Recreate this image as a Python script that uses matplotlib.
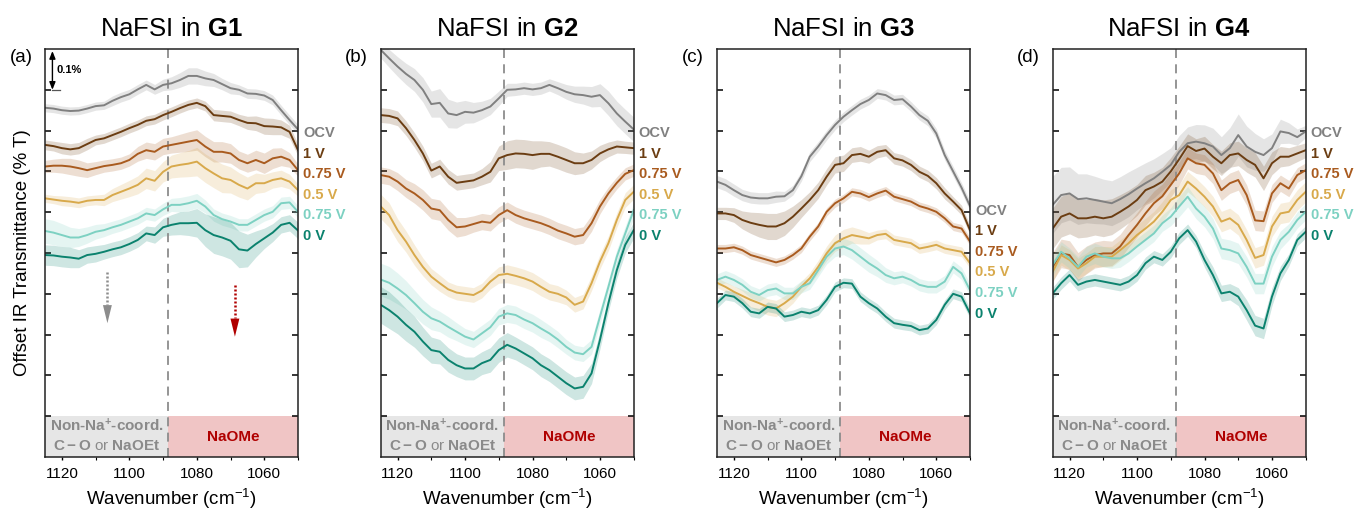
import numpy as np
import matplotlib.pyplot as plt
from matplotlib.ticker import MultipleLocator

plt.rcParams['font.family'] = ['Liberation Sans', 'DejaVu Sans']
plt.rcParams['mathtext.fontset'] = 'custom'
plt.rcParams['mathtext.rm'] = 'Liberation Sans'
plt.rcParams['mathtext.bf'] = 'Liberation Sans:bold'
plt.rcParams['mathtext.it'] = 'Liberation Sans:italic'

# sampling grid of the spectra (cm-1)
WAVENUMBER = np.arange(1125, 1047.5, -2.5)

STATES = ['OCV', '1 V', '0.75 V', '0.5 V', '0.75 V', '0 V']
COLORS = ['#808080', '#6b3d12', '#a95b1f', '#d8a94b', '#7dd1c2', '#0b826e']
SOLVENTS = ['G1', 'G2', 'G3', 'G4']
PANEL_TAGS = ['(a)', '(b)', '(c)', '(d)']
X_TICKS = [1120, 1100, 1080, 1060]
BOUNDARY = 1088.5

# offset transmittance (% T), one array per state
G1_OCV = [0.856, 0.854, 0.850, 0.848, 0.849, 0.854, 0.860, 0.862, 0.873, 0.882, 0.889, 0.901, 0.912, 0.901, 0.912, 0.916,
          0.924, 0.934, 0.934, 0.928, 0.924, 0.914, 0.904, 0.900, 0.891, 0.890, 0.886, 0.875, 0.850, 0.826, 0.803]
G1_1V = [0.765, 0.762, 0.757, 0.754, 0.757, 0.767, 0.777, 0.781, 0.789, 0.797, 0.806, 0.814, 0.824, 0.828, 0.838, 0.846,
         0.855, 0.863, 0.868, 0.860, 0.838, 0.836, 0.834, 0.826, 0.819, 0.818, 0.811, 0.810, 0.808, 0.797, 0.752]
G1_075V = [0.712, 0.714, 0.714, 0.712, 0.708, 0.703, 0.708, 0.713, 0.716, 0.720, 0.728, 0.743, 0.752, 0.748, 0.761, 0.765,
           0.769, 0.773, 0.777, 0.761, 0.748, 0.748, 0.744, 0.728, 0.720, 0.728, 0.720, 0.732, 0.736, 0.728, 0.703]
G1_05V = [0.634, 0.631, 0.628, 0.626, 0.623, 0.628, 0.630, 0.630, 0.642, 0.650, 0.658, 0.667, 0.683, 0.677, 0.699, 0.712,
          0.716, 0.719, 0.724, 0.708, 0.695, 0.683, 0.679, 0.667, 0.658, 0.671, 0.671, 0.679, 0.683, 0.675, 0.654]
G1_075T = [0.554, 0.550, 0.544, 0.538, 0.538, 0.544, 0.552, 0.556, 0.563, 0.569, 0.577, 0.585, 0.597, 0.593, 0.607, 0.618,
           0.618, 0.622, 0.628, 0.614, 0.593, 0.583, 0.577, 0.569, 0.569, 0.581, 0.593, 0.601, 0.622, 0.624, 0.601]
G1_0V = [0.495, 0.494, 0.491, 0.489, 0.486, 0.495, 0.498, 0.503, 0.509, 0.514, 0.522, 0.532, 0.548, 0.544, 0.563, 0.569,
         0.573, 0.573, 0.574, 0.556, 0.544, 0.538, 0.530, 0.509, 0.506, 0.522, 0.536, 0.550, 0.569, 0.574, 0.555]

G2_OCV = [0.998, 0.977, 0.957, 0.939, 0.924, 0.900, 0.865, 0.868, 0.842, 0.838, 0.846, 0.844, 0.850, 0.859, 0.879, 0.900,
          0.901, 0.904, 0.901, 0.904, 0.912, 0.904, 0.895, 0.889, 0.887, 0.883, 0.887, 0.867, 0.842, 0.822, 0.803]
G2_1V = [0.838, 0.836, 0.830, 0.806, 0.777, 0.744, 0.702, 0.712, 0.687, 0.672, 0.675, 0.678, 0.687, 0.699, 0.732, 0.740,
         0.744, 0.743, 0.740, 0.743, 0.743, 0.736, 0.728, 0.720, 0.720, 0.728, 0.744, 0.754, 0.761, 0.759, 0.757]
G2_075V = [0.691, 0.687, 0.675, 0.658, 0.646, 0.630, 0.609, 0.605, 0.581, 0.563, 0.565, 0.571, 0.577, 0.574, 0.593, 0.605,
           0.593, 0.585, 0.579, 0.573, 0.565, 0.555, 0.548, 0.540, 0.544, 0.573, 0.614, 0.646, 0.672, 0.694, 0.703]
G2_05V = [0.614, 0.593, 0.556, 0.528, 0.495, 0.466, 0.442, 0.426, 0.411, 0.403, 0.400, 0.397, 0.408, 0.430, 0.446, 0.449,
          0.444, 0.438, 0.430, 0.417, 0.405, 0.400, 0.391, 0.373, 0.381, 0.426, 0.479, 0.524, 0.581, 0.630, 0.650]
G2_075T = [0.435, 0.427, 0.413, 0.397, 0.377, 0.356, 0.340, 0.332, 0.319, 0.307, 0.295, 0.288, 0.303, 0.318, 0.344, 0.352,
           0.348, 0.337, 0.328, 0.315, 0.303, 0.288, 0.270, 0.256, 0.252, 0.270, 0.344, 0.417, 0.491, 0.548, 0.605]
G2_0V = [0.373, 0.360, 0.344, 0.324, 0.307, 0.283, 0.262, 0.258, 0.238, 0.225, 0.217, 0.217, 0.230, 0.238, 0.262, 0.275,
         0.266, 0.254, 0.242, 0.225, 0.213, 0.197, 0.181, 0.168, 0.172, 0.205, 0.287, 0.377, 0.458, 0.520, 0.556]

G3_OCV = [0.675, 0.667, 0.654, 0.642, 0.636, 0.634, 0.634, 0.638, 0.639, 0.654, 0.688, 0.736, 0.761, 0.789, 0.814, 0.834,
          0.850, 0.865, 0.875, 0.891, 0.887, 0.875, 0.877, 0.859, 0.838, 0.824, 0.793, 0.740, 0.700, 0.660, 0.615]
G3_1V = [0.597, 0.597, 0.593, 0.581, 0.574, 0.569, 0.565, 0.565, 0.573, 0.589, 0.609, 0.630, 0.654, 0.687, 0.716, 0.720,
         0.740, 0.743, 0.736, 0.748, 0.752, 0.732, 0.727, 0.716, 0.699, 0.689, 0.671, 0.646, 0.626, 0.605, 0.556]
G3_075V = [0.511, 0.511, 0.514, 0.507, 0.495, 0.489, 0.483, 0.477, 0.483, 0.495, 0.511, 0.540, 0.565, 0.601, 0.622, 0.634,
           0.650, 0.646, 0.637, 0.646, 0.653, 0.638, 0.632, 0.626, 0.615, 0.609, 0.601, 0.585, 0.565, 0.560, 0.528]
G3_05V = [0.427, 0.417, 0.405, 0.395, 0.385, 0.377, 0.368, 0.364, 0.377, 0.393, 0.417, 0.438, 0.466, 0.499, 0.524, 0.536,
          0.544, 0.540, 0.536, 0.544, 0.547, 0.532, 0.528, 0.524, 0.511, 0.515, 0.520, 0.511, 0.507, 0.503, 0.475]
G3_075T = [0.434, 0.442, 0.434, 0.422, 0.405, 0.397, 0.409, 0.413, 0.401, 0.401, 0.417, 0.426, 0.458, 0.491, 0.511, 0.516,
           0.507, 0.491, 0.475, 0.462, 0.446, 0.438, 0.442, 0.434, 0.422, 0.417, 0.417, 0.430, 0.466, 0.450, 0.409]
G3_0V = [0.377, 0.397, 0.393, 0.377, 0.356, 0.352, 0.368, 0.364, 0.344, 0.348, 0.356, 0.352, 0.360, 0.385, 0.417, 0.427,
         0.425, 0.393, 0.377, 0.364, 0.344, 0.328, 0.324, 0.321, 0.311, 0.315, 0.336, 0.373, 0.400, 0.393, 0.352]

G4_OCV = [0.618, 0.642, 0.646, 0.632, 0.634, 0.630, 0.626, 0.622, 0.632, 0.644, 0.658, 0.671, 0.683, 0.699, 0.716, 0.748,
          0.769, 0.773, 0.769, 0.761, 0.740, 0.757, 0.789, 0.761, 0.748, 0.740, 0.757, 0.798, 0.794, 0.784, 0.798]
G4_1V = [0.560, 0.589, 0.597, 0.585, 0.585, 0.589, 0.585, 0.589, 0.601, 0.614, 0.630, 0.654, 0.663, 0.675, 0.700, 0.730,
         0.762, 0.750, 0.756, 0.736, 0.720, 0.740, 0.744, 0.728, 0.716, 0.683, 0.720, 0.736, 0.736, 0.744, 0.752]
G4_075V = [0.466, 0.499, 0.495, 0.466, 0.483, 0.495, 0.499, 0.499, 0.516, 0.544, 0.569, 0.597, 0.622, 0.639, 0.667, 0.695,
           0.732, 0.720, 0.716, 0.695, 0.654, 0.671, 0.679, 0.642, 0.580, 0.578, 0.646, 0.671, 0.658, 0.691, 0.703]
G4_05V = [0.454, 0.495, 0.483, 0.462, 0.475, 0.491, 0.491, 0.491, 0.507, 0.524, 0.544, 0.560, 0.577, 0.601, 0.630, 0.642,
          0.675, 0.658, 0.638, 0.614, 0.577, 0.585, 0.569, 0.532, 0.488, 0.495, 0.565, 0.597, 0.601, 0.630, 0.650]
G4_075T = [0.471, 0.503, 0.487, 0.466, 0.491, 0.499, 0.491, 0.487, 0.487, 0.499, 0.516, 0.532, 0.548, 0.573, 0.589, 0.614,
           0.638, 0.609, 0.589, 0.560, 0.511, 0.507, 0.499, 0.466, 0.425, 0.425, 0.491, 0.532, 0.552, 0.581, 0.601]
G4_0V = [0.401, 0.426, 0.446, 0.422, 0.430, 0.434, 0.430, 0.426, 0.422, 0.430, 0.446, 0.475, 0.491, 0.483, 0.503, 0.536,
         0.556, 0.528, 0.483, 0.446, 0.401, 0.405, 0.393, 0.360, 0.322, 0.315, 0.393, 0.450, 0.483, 0.532, 0.552]

# spread between repeat measurements (half-width of the shaded band, % T)
S1_OCV = [.010, .010, .010, .010, .010, .010, .010, .010, .012, .012, .012, .012, .012, .012, .014, .016,
          .018, .020, .020, .018, .016, .014, .014, .012, .012, .012, .012, .012, .012, .012, .012]
S1_1V = [.012, .012, .014, .014, .014, .014, .012, .012, .012, .012, .012, .012, .012, .012, .012, .012,
         .012, .012, .012, .012, .014, .014, .014, .014, .016, .018, .020, .020, .018, .016, .014]
S1_075V = [.015, .016, .018, .020, .020, .018, .016, .015, .015, .015, .015, .018, .020, .020, .020, .020,
           .022, .024, .025, .025, .025, .025, .024, .022, .022, .024, .025, .025, .022, .018, .015]
S1_05V = [.010, .010, .012, .012, .012, .012, .012, .014, .016, .018, .020, .022, .025, .025, .025, .028,
          .030, .032, .035, .035, .035, .035, .032, .030, .028, .025, .022, .020, .020, .018, .015]
S1_075T = [.030, .030, .028, .025, .022, .020, .018, .016, .015, .015, .015, .015, .015, .015, .015, .016,
           .018, .018, .018, .016, .015, .015, .015, .015, .015, .015, .015, .015, .015, .015, .015]
S1_0V = [.025, .025, .025, .025, .022, .020, .020, .018, .018, .018, .018, .018, .018, .020, .022, .025,
         .028, .030, .035, .040, .045, .045, .045, .045, .040, .032, .025, .022, .020, .020, .020]

S2_OCV = [.020, .022, .024, .026, .028, .030, .032, .035, .035, .032, .028, .025, .022, .020, .018, .016,
          .015, .015, .015, .015, .015, .016, .018, .020, .022, .025, .028, .030, .030, .030, .030]
S2_1V = [.018, .018, .018, .018, .018, .018, .018, .018, .018, .018, .018, .018, .020, .025, .030, .035,
         .035, .035, .035, .032, .030, .030, .030, .028, .025, .022, .020, .018, .016, .015, .015]
S2_075V = [.020, .020, .022, .022, .024, .025, .025, .025, .025, .024, .022, .020, .020, .020, .020, .020,
           .020, .020, .020, .020, .020, .020, .020, .020, .020, .020, .018, .016, .015, .015, .015]
S2_05V = [.030, .030, .028, .026, .025, .022, .020, .020, .018, .018, .018, .018, .018, .018, .020, .022,
          .022, .022, .022, .022, .020, .020, .018, .018, .018, .018, .018, .018, .018, .018, .018]
S2_075T = [.040, .040, .038, .035, .032, .030, .028, .025, .025, .022, .020, .020, .020, .020, .020, .022,
           .022, .022, .022, .022, .020, .020, .018, .018, .018, .018, .018, .018, .018, .018, .018]
S2_0V = [.045, .045, .042, .040, .038, .035, .032, .030, .030, .028, .028, .028, .028, .030, .030, .030,
         .028, .028, .028, .028, .028, .028, .028, .028, .028, .025, .022, .020, .020, .020, .020]

S3_OCV = [.015, .015, .015, .014, .014, .014, .014, .014, .012, .012, .012, .012, .012, .012, .012, .012,
          .012, .012, .012, .012, .012, .012, .012, .012, .012, .012, .012, .012, .012, .012, .012]
S3_1V = [.015, .015, .018, .022, .026, .030, .032, .032, .030, .026, .022, .020, .020, .020, .020, .020,
         .018, .018, .016, .015, .014, .014, .014, .014, .014, .014, .014, .014, .012, .012, .012]
S3_075V = [.010, .010, .010, .010, .010, .010, .010, .010, .010, .010, .010, .010, .010, .010, .010, .010,
           .010, .010, .010, .010, .010, .010, .010, .010, .010, .010, .010, .010, .010, .010, .010]
S3_05V = [.012, .012, .014, .016, .018, .020, .020, .020, .018, .016, .014, .014, .016, .018, .020, .022,
          .020, .018, .014, .012, .012, .012, .012, .012, .012, .012, .012, .012, .012, .012, .012]
S3_075T = [.015, .015, .015, .015, .015, .015, .015, .015, .015, .015, .015, .015, .016, .018, .020, .020,
           .022, .022, .022, .020, .018, .016, .015, .015, .015, .015, .015, .015, .015, .015, .015]
S3_0V = [.012, .012, .012, .012, .012, .012, .012, .012, .012, .012, .012, .012, .012, .012, .012, .012,
         .012, .012, .012, .012, .012, .012, .012, .012, .012, .012, .012, .012, .012, .012, .012]

S4_OCV = [.070, .068, .065, .062, .060, .058, .055, .055, .055, .055, .052, .050, .048, .045, .042, .040,
          .040, .042, .045, .045, .045, .050, .052, .050, .045, .040, .035, .030, .025, .020, .015]
S4_1V = [.050, .050, .050, .048, .046, .045, .045, .044, .042, .040, .038, .036, .035, .035, .034, .032,
         .030, .030, .030, .030, .030, .030, .030, .030, .030, .030, .028, .025, .022, .020, .018]
S4_075V = [.035, .035, .035, .035, .034, .032, .032, .030, .030, .030, .030, .030, .030, .030, .030, .028,
           .026, .025, .025, .025, .025, .025, .025, .025, .025, .025, .022, .020, .020, .018, .018]
S4_05V = [.025, .025, .025, .025, .025, .025, .025, .025, .025, .025, .025, .025, .025, .025, .025, .025,
          .025, .025, .025, .025, .025, .025, .025, .025, .025, .025, .025, .025, .025, .025, .025]
S4_075T = [.025, .025, .025, .025, .025, .025, .025, .025, .022, .020, .020, .020, .020, .020, .022, .025,
           .025, .025, .025, .025, .025, .025, .025, .025, .025, .025, .025, .022, .020, .020, .020]
S4_0V = [.015, .015, .015, .015, .015, .015, .015, .015, .015, .015, .015, .015, .015, .015, .015, .015,
         .015, .015, .018, .020, .020, .020, .022, .025, .025, .025, .022, .018, .015, .015, .015]

CURVES = [
    [G1_OCV, G1_1V, G1_075V, G1_05V, G1_075T, G1_0V],
    [G2_OCV, G2_1V, G2_075V, G2_05V, G2_075T, G2_0V],
    [G3_OCV, G3_1V, G3_075V, G3_05V, G3_075T, G3_0V],
    [G4_OCV, G4_1V, G4_075V, G4_05V, G4_075T, G4_0V],
]
SPREADS = [
    [S1_OCV, S1_1V, S1_075V, S1_05V, S1_075T, S1_0V],
    [S2_OCV, S2_1V, S2_075V, S2_05V, S2_075T, S2_0V],
    [S3_OCV, S3_1V, S3_075V, S3_05V, S3_075T, S3_0V],
    [S4_OCV, S4_1V, S4_075V, S4_05V, S4_075T, S4_0V],
]

# layout (figure pixels)
W, H = 1357, 512
AX_LEFT = [45, 380.7, 717, 1052.7]
AX_WIDTH = 253
AX_TOP, AX_BOTTOM = 49, 457
LABEL_TOP = [0.794, 0.794, 0.604, 0.794]
LABEL_STEP = 0.0505

fig = plt.figure(figsize=(W / 100, H / 100), dpi=100)

for k in range(4):
    ax = fig.add_axes([AX_LEFT[k] / W, 1 - AX_BOTTOM / H, AX_WIDTH / W, (AX_BOTTOM - AX_TOP) / H])
    x = WAVENUMBER

    for j in range(6):
        y = np.array(CURVES[k][j])
        s = np.array(SPREADS[k][j])
        ax.fill_between(x, y - s, y + s, color=COLORS[j], alpha=0.2, lw=0, zorder=2)
        ax.plot(x, y, color=COLORS[j], lw=1.4, zorder=3)

    # assignment boxes along the bottom
    ax.fill_between([1125, BOUNDARY], 0, 0.1, color='#e6e6e6', lw=0, zorder=1)
    ax.fill_between([BOUNDARY, 1050], 0, 0.1, color='#f0c5c5', lw=0, zorder=1)
    ax.text((1125 + BOUNDARY) / 2, 0.077, 'Non-Na$^{\\mathbf{+}}$-coord.', ha='center', va='center',
            fontsize=11, fontweight='bold', color='#8a8a8a', zorder=4)
    ax.text((1125 + BOUNDARY) / 2, 0.026, r'$\mathbf{C-O}$ or $\mathbf{NaOEt}$', ha='center', va='center',
            fontsize=11, color='#8a8a8a', zorder=4)
    ax.text((BOUNDARY + 1050) / 2, 0.05, 'NaOMe', ha='center', va='center',
            fontsize=11, fontweight='bold', color='#b00000', zorder=4)

    ax.plot([BOUNDARY, BOUNDARY], [0, 1.0], color='#8c8c8c', lw=1.3, ls=(0, (5, 3.5)), zorder=2.5)

    ax.set_xlim(1125, 1050)
    ax.set_ylim(0, 1.0)
    ax.set_xticks(X_TICKS)
    ax.xaxis.set_minor_locator(MultipleLocator(10))
    ax.set_yticks(np.arange(0.1, 0.95, 0.1))
    ax.tick_params(axis='y', direction='in', left=True, right=True, labelleft=False, length=4.5, width=1.1)
    ax.tick_params(axis='x', which='major', direction='out', length=2.5, width=1.0, labelsize=11, pad=5)
    ax.tick_params(axis='x', which='minor', direction='out', length=2, width=0.8)
    for sp in ax.spines.values():
        sp.set_linewidth(1.1)
        sp.set_color('#222222')
        sp.set_zorder(5)

    ax.set_xlabel('Wavenumber (cm$^{-1}$)', fontsize=13.5, labelpad=4)
    ax.set_title('NaFSI in $\\mathbf{' + SOLVENTS[k] + '}$', fontsize=18.5, pad=9)

    ytrans = ax.get_yaxis_transform()
    for j in range(6):
        ax.text(1.02, LABEL_TOP[k] - j * LABEL_STEP, STATES[j], transform=ytrans, ha='left', va='center',
                fontsize=10.5, fontweight='bold', color=COLORS[j], clip_on=False)

    fig.text((AX_LEFT[k] - 24) / W, 1 - 58 / H, PANEL_TAGS[k], ha='center', va='center', fontsize=13.5)

    if k == 0:
        ax.set_ylabel('Offset IR Transmittance (% T)', fontsize=13.5, labelpad=10)

        # 0.1 % scale bar
        ax.annotate('', xy=(1122.8, 0.995), xytext=(1122.8, 0.9),
                    arrowprops=dict(arrowstyle='<|-|>,head_length=0.45,head_width=0.18', color='black',
                                    lw=1.0, shrinkA=0, shrinkB=0))
        ax.plot([1122.9, 1120.7], [0.9, 0.9], color='#555555', lw=0.9)
        ax.text(1121.6, 0.948, '0.1%', fontsize=8, fontweight='bold', ha='left', va='center')

        # trend arrows
        ax.plot([1106.5, 1106.5], [0.454, 0.372], color='#8c8c8c', lw=1.8, ls=(0, (0.8, 0.8)))
        ax.annotate('', xy=(1106.5, 0.328), xytext=(1106.5, 0.374),
                    arrowprops=dict(arrowstyle='-|>,head_length=1.3,head_width=0.32', color='#8c8c8c',
                                    lw=0, shrinkA=0, shrinkB=0))
        ax.plot([1068.7, 1068.7], [0.422, 0.340], color='#b00000', lw=1.8, ls=(0, (0.8, 0.8)))
        ax.annotate('', xy=(1068.7, 0.295), xytext=(1068.7, 0.342),
                    arrowprops=dict(arrowstyle='-|>,head_length=1.3,head_width=0.32', color='#b00000',
                                    lw=0, shrinkA=0, shrinkB=0))

fig.savefig('out.png', dpi=100)
